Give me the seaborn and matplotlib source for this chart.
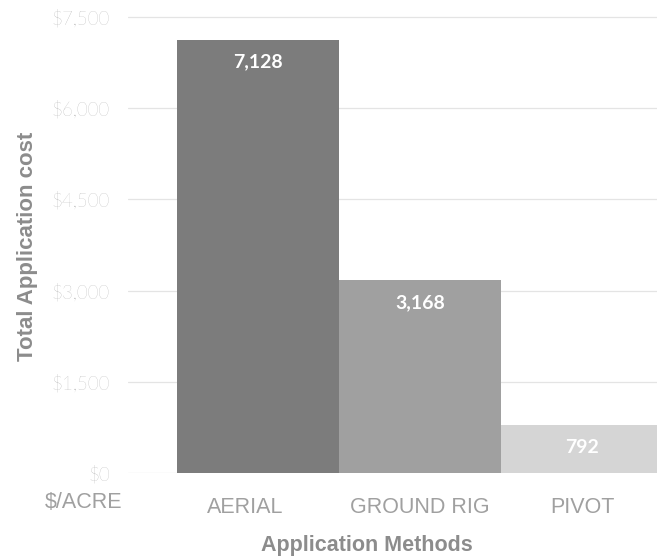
import matplotlib
matplotlib.use("Agg")
import matplotlib.pyplot as plt
import matplotlib.transforms as mtransforms
import seaborn as sns
import pandas as pd

methods = ["AERIAL", "GROUND RIG", "PIVOT"]
costs = [7128, 3168, 792]
value_labels = ["7,128", "3,168", "792"]
bar_colors = ["#7c7c7c", "#a0a0a0", "#d5d5d5"]
yticks = [0, 1500, 3000, 4500, 6000, 7500]
ytick_labels = ["$0", "$1,500", "$3,000", "$4,500", "$6,000", "$7,500"]

sns.set_theme(style="white")
plt.rcParams["font.family"] = ["Liberation Sans", "DejaVu Sans"]

df = pd.DataFrame({"method": methods, "cost": costs})

fig = plt.figure(figsize=(6.57, 5.6), dpi=100)
W, H = 657, 560
ax = fig.add_axes([128 / W, (H - 473) / H, (W - 128) / W, (473 - 13.4) / H])

sns.barplot(data=df, x="method", y="cost", hue="method", palette=bar_colors,
            width=1.0, dodge=False, legend=False, ax=ax, saturation=1,
            linewidth=0, edgecolor="none", zorder=2)

ax.set_xlim(-0.80, 2.46)
ax.set_ylim(0, 7560)
ax.set_yticks(yticks)
ax.set_yticklabels(ytick_labels, fontfamily="Lato", fontweight="light",
                   color="#9e9e9e", fontsize=13.5)
ax.tick_params(axis="y", length=0, pad=13)
ax.tick_params(axis="x", length=0, pad=17, labelsize=15.5, labelcolor="#a0a0a0")
ax.grid(axis="y", color="#e4e4e4", linewidth=0.9, zorder=0)
ax.set_axisbelow(True)
for s in ax.spines.values():
    s.set_visible(False)
ax.set_xlabel("")
ax.set_ylabel("")

# AERIAL label sits slightly left of its bar centre in the reference
lbl = ax.get_xticklabels()[0]
lbl.set_transform(lbl.get_transform() + mtransforms.ScaledTranslation(-13 / 100, 0, fig.dpi_scale_trans))

for i, (v, lab) in enumerate(zip(costs, value_labels)):
    ax.annotate(lab, xy=(i, v), xytext=(0, -16), textcoords="offset points",
                ha="center", va="center", color="white", fontsize=14,
                fontweight="bold", fontfamily="Lato", zorder=3)

fig.text(84 / W, (H - 503) / H, "$/ACRE", ha="center", va="center",
         fontsize=15.5, color="#a0a0a0")
fig.text(28 / W, (H - 246) / H, "Total Application cost", rotation=90,
         ha="center", va="center", fontsize=16, fontweight="bold", color="#8c8c8c")
fig.text(367 / W, (H - 546) / H, "Application Methods", ha="center", va="center",
         fontsize=15.5, fontweight="bold", color="#8c8c8c")

fig.savefig("out.png", dpi=100)
